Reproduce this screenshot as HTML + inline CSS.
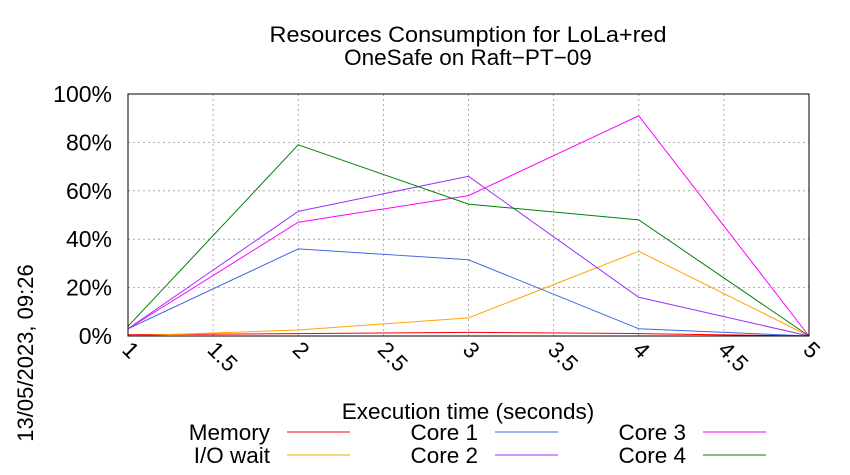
<!DOCTYPE html>
<html><head><meta charset="utf-8"><style>body{margin:0;background:#fff}svg{display:block;font-family:"Liberation Sans",sans-serif}</style></head>
<body>
<svg id="chart" width="850" height="475" viewBox="0 0 850 475">
<g id="title" font-size="22.5" text-anchor="middle">
<text x="468" y="42" textLength="397" lengthAdjust="spacingAndGlyphs">Resources Consumption for LoLa+red</text>
<text x="468" y="65">OneSafe on Raft−PT−09</text>
</g>
<text transform="translate(33,353) rotate(-90)" text-anchor="middle" font-size="22">13/05/2023, 09:26</text>
<text x="468" y="419" text-anchor="middle" font-size="22.5">Execution time (seconds)</text>
<g id="grid"></g><g id="series"></g><g id="ticks"></g><g id="legend"></g>
<rect x="128" y="94" width="681" height="242" fill="none" stroke="#000" stroke-width="1"/>
</svg>
<script>
const xValues=[1,2,3,4,5];
const memory=[0.5,1,1.5,1,0];
const ioWait=[0,2.5,7.5,35,0];
const core1=[3,36,31.5,3,0];
const core2=[3,51.5,66,16,0];
const core3=[3,47,58,91,0];
const core4=[4,79,54.5,48,0];
const xTicks=["1","1.5","2","2.5","3","3.5","4","4.5","5"];
const yTicks=["0%","20%","40%","60%","80%","100%"];
const seriesNames=["Memory","I/O wait","Core 1","Core 2","Core 3","Core 4"];
const NS="http://www.w3.org/2000/svg";
const X=v=>128+(v-1)*(681/4), Y=v=>336-v*2.42;
function mk(t,a,p){const e=document.createElementNS(NS,t);for(const k in a)e.setAttribute(k,a[k]);p.appendChild(e);return e;}
const grid=document.getElementById('grid'),ticks=document.getElementById('ticks');
xTicks.forEach((t,i)=>{const x=X(1+i*0.5);
 if(i>0&&i<8){const l=mk('line',{x1:x,x2:x,y1:94,y2:336,stroke:'#999','stroke-dasharray':'2,3','stroke-width':0.8},grid);
 
 }
 const tx=mk('text',{x:x-7,y:351,'font-size':22.5,transform:`rotate(45 ${x-7} 351)`},ticks);tx.textContent=t;
 
 });
yTicks.forEach((t,i)=>{const y=Y(i*20);
 if(i>0&&i<5){const l=mk('line',{x1:128,x2:809,y1:y,y2:y,stroke:'#999','stroke-dasharray':'2,3','stroke-width':0.8},grid);
 
 }
 const tx=mk('text',{x:112,y:y+8,'font-size':23,'text-anchor':'end'},ticks);tx.textContent=t;
 
 });
const data=[memory,ioWait,core1,core2,core3,core4];
const colors=["#ff0000","#ffa500","#4169e1","#9b30ff","#ff00ff","#008000"];
const sg=document.getElementById('series'),lg=document.getElementById('legend');
data.forEach((d,s)=>{
 const p=mk('polyline',{points:d.map((v,i)=>X(xValues[i])+','+Y(v)).join(' '),fill:'none',stroke:colors[s],'stroke-width':1},sg);
 
 
 const col=Math.floor(s/2),row=s%2,tx0=270+col*208,y=432+row*23;
 const t=mk('text',{x:tx0,y:y+8,'font-size':22.5,'text-anchor':'end'},lg);t.textContent=seriesNames[s];
 
 
 const l=mk('line',{x1:tx0+17,x2:tx0+80,y1:y,y2:y,stroke:colors[s],'stroke-width':1},lg);
 
 
});
</script>
</body></html>
